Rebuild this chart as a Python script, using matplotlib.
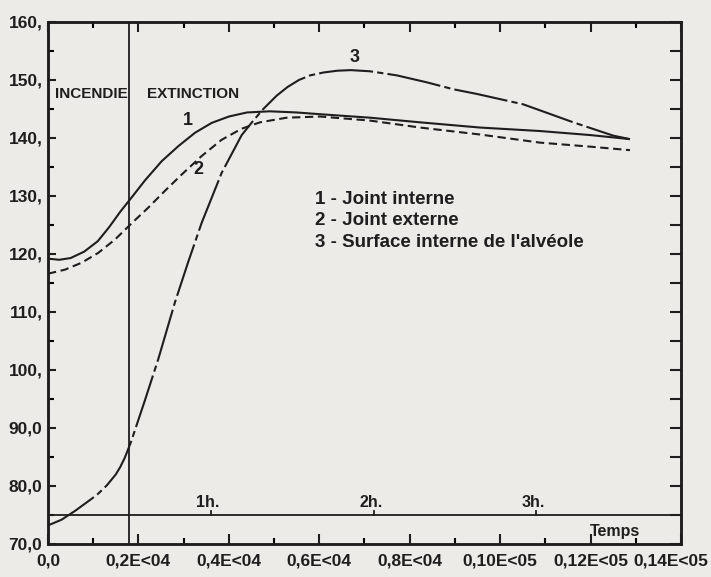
import numpy as np
import matplotlib
matplotlib.use("Agg")
import matplotlib.pyplot as plt
from matplotlib import font_manager as fm
from matplotlib.ticker import FixedLocator, MultipleLocator

# ---------------- data ----------------
t1 = [0, 250, 500, 800, 1100, 1350, 1600, 1865, 2146, 2515, 2884, 3251, 3620, 4000,
      4400, 4900, 5500, 6016, 7122, 8228, 9554, 10881, 12000, 12872]
v1 = [119.2, 119.0, 119.3, 120.4, 122.2, 124.6, 127.3, 129.9, 132.7, 136.0, 138.6,
      140.9, 142.6, 143.7, 144.4, 144.6, 144.4, 144.1, 143.5, 142.7, 141.8, 141.2,
      140.5, 139.8]

t2 = [0, 376, 745, 1113, 1482, 1865, 2219, 2588, 2957, 3400, 3842, 4284, 4689, 5279,
      6016, 7122, 8228, 9554, 10881, 12000, 12872]
v2 = [116.6, 117.3, 118.5, 120.2, 122.5, 125.4, 128.0, 130.9, 133.7, 136.9, 139.7,
      141.6, 142.7, 143.5, 143.7, 143.0, 141.8, 140.6, 139.2, 138.5, 137.9]

t3 = [0, 303, 597, 966, 1100, 1300, 1500, 1600, 1700, 1836, 2145, 2440, 2809, 3100,
      3400, 3842, 4284, 4541, 4762, 5058, 5300, 5550, 5800, 6100, 6400, 6700, 7122,
      7712, 8376, 8965, 9482, 10512, 11618, 12503, 12872]
v3 = [73.2, 74.2, 75.7, 77.8, 78.6, 80.1, 82.0, 83.3, 84.9, 87.6, 94.8, 101.9, 111.7,
      118.6, 125.4, 134.0, 140.5, 143.0, 145.0, 147.3, 148.8, 150.0, 150.8, 151.3,
      151.6, 151.7, 151.5, 150.8, 149.6, 148.4, 147.6, 145.8, 142.7, 140.4, 139.8]

x_ticks = [0, 2000, 4000, 6000, 8000, 10000, 12000, 14000]
x_labels = ["0,0", "0,2E<04", "0,4E<04", "0,6E<04", "0,8E<04", "0,10E<05", "0,12E<05", "0,14E<05"]
y_ticks = [70, 80, 90, 100, 110, 120, 130, 140, 150, 160]
y_labels = ["70,0", "80,0", "90,0", "100,", "110,", "120,", "130,", "140,", "150,", "160,"]

legend_lines = ["1 - Joint interne", "2 - Joint externe", "3 - Surface interne de l'alvéole"]
hour_ticks = [3600, 7200, 10800]
hour_labels = ["1h.", "2h.", "3h."]
t_fire_end = 1800
baseline = 75

# ---------------- fonts ----------------
names = {f.name for f in fm.fontManager.ttflist}
main_font = "Liberation Sans" if "Liberation Sans" in names else "DejaVu Sans"

plt.rcParams["font.family"] = [main_font, "DejaVu Sans"]
plt.rcParams["font.weight"] = "bold"

ink = "#1e1e1e"
bg = "#ecebe7"

fig = plt.figure(figsize=(7.11, 5.77), dpi=100, facecolor=bg)
ax = fig.add_axes([0.0675, 0.0572, 0.8903, 0.9047])
ax.set_facecolor(bg)

lw = 1.5
ax.plot(t1, v1, color=ink, lw=lw, solid_capstyle="butt", solid_joinstyle="round")
ax.plot(t2, v2, color=ink, lw=lw, dashes=(4, 2.2))
ax.plot(t3, v3, color=ink, lw=lw, dashes=(26, 2, 3, 2))

ax.axvline(t_fire_end, color=ink, lw=1.3)
ax.axhline(baseline, color=ink, lw=1.3)
for ht, hl in zip(hour_ticks, hour_labels):
    ax.plot([ht, ht], [baseline, baseline + 0.7], color=ink, lw=1.3)
    ax.text(ht - 60, baseline + 0.9, hl, ha="center", va="bottom", fontsize=11.5,
            fontweight="bold", color=ink)

ax.set_xlim(0, 14000)
ax.set_ylim(70, 160)

ax.xaxis.set_major_locator(FixedLocator(x_ticks))
ax.xaxis.set_minor_locator(MultipleLocator(1000))
ax.set_xticklabels(x_labels[:-1] + [""])
ax.yaxis.set_major_locator(FixedLocator(y_ticks))
ax.yaxis.set_minor_locator(MultipleLocator(5))
ax.set_yticklabels(y_labels)

ax.tick_params(axis="x", which="major", direction="in", length=7, width=1.5,
               top=True, bottom=True, pad=7, labelsize=12.5, colors=ink)
ax.tick_params(axis="x", which="minor", direction="in", length=4.5, width=1.5,
               top=True, bottom=True)
ax.tick_params(axis="y", which="major", direction="in", length=6, width=1.5,
               left=True, right=False, pad=4, labelsize=12.5, colors=ink)
ax.tick_params(axis="y", which="minor", direction="in", length=4.5, width=1.5,
               left=True, right=False)
for lab in ax.get_xticklabels() + ax.get_yticklabels():
    lab.set_fontweight("bold")

# last x label sits shifted left so that it stays inside the figure
ax.annotate(x_labels[-1], xy=(1, 0), xycoords="axes fraction", xytext=(27, -10),
            textcoords="offset pixels", ha="right", va="top", fontsize=12.5,
            fontweight="bold", color=ink)

ax2 = ax.twinx()
ax2.set_ylim(70, 160)
ax2.yaxis.set_major_locator(MultipleLocator(5))
ax2.tick_params(axis="y", direction="in", length=8, width=1.5, labelright=False, colors=ink)
for a in (ax, ax2):
    for s in a.spines.values():
        s.set_linewidth(1.8)
        s.set_color(ink)

ax.text(150, 147.5, "INCENDIE", ha="left", va="center", fontsize=11,
        fontweight="bold", color=ink)
ax.text(2190, 147.5, "EXTINCTION", ha="left", va="center", fontsize=11,
        fontweight="bold", color=ink)
ax.text(3103, 143.0, "1", ha="center", va="center", fontsize=13, fontweight="bold", color=ink)
ax.text(3324, 134.6, "2", ha="center", va="center", fontsize=13, fontweight="bold", color=ink)
ax.text(6790, 153.9, "3", ha="center", va="center", fontsize=13, fontweight="bold", color=ink)

for i, line in enumerate(legend_lines):
    ax.text(5905, 129.4 - i * 3.7, line, ha="left", va="center", fontsize=13.5,
            fontweight="bold", color=ink)

ax.text(11990, 72.1, "Temps", ha="left", va="center", fontsize=11.5,
        fontweight="bold", color=ink)

fig.savefig("out.png", dpi=100, facecolor=bg)
